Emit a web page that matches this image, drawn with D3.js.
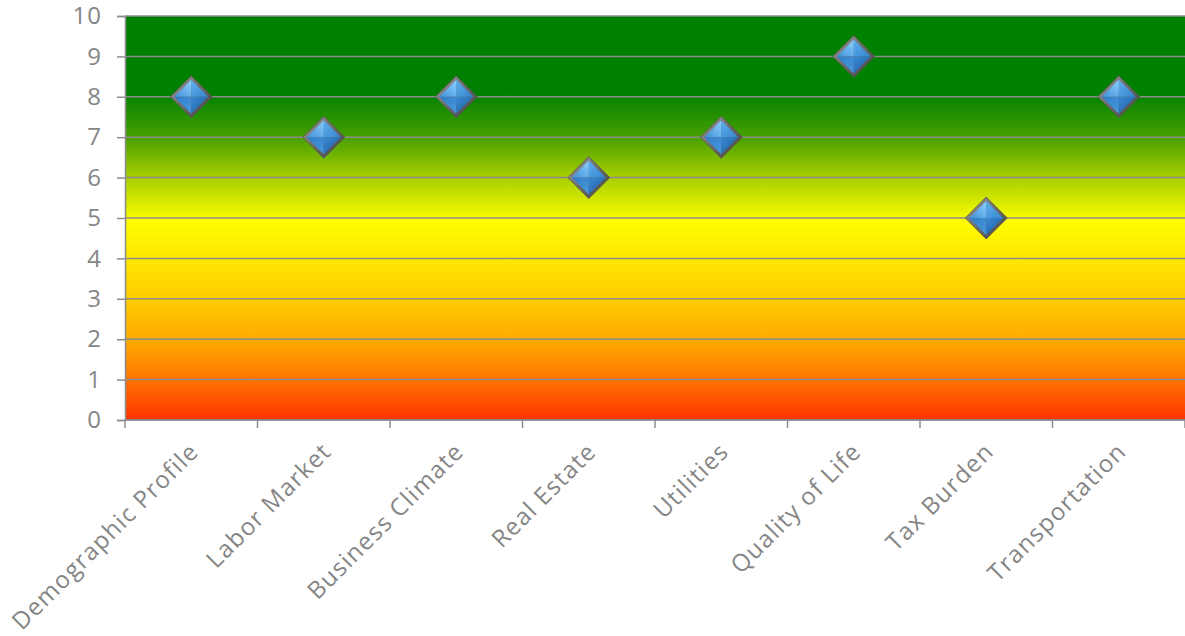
<!DOCTYPE html>
<html>
<head>
<meta charset="utf-8">
<script src="https://cdn.jsdelivr.net/npm/d3@7"></script>
<style>
  html, body { margin: 0; padding: 0; background: #fff; }
  svg { display: block; }
  .axis text { font-family: "Open Sans", sans-serif; font-weight: normal; fill: #858585; }
</style>
</head>
<body>
<svg id="chart" width="1185" height="636"></svg>
<script>
// Scores per category
const categories = ["Demographic Profile", "Labor Market", "Business Climate", "Real Estate",
                    "Utilities", "Quality of Life", "Tax Burden", "Transportation"];
const scores = [8, 7, 8, 6, 7, 9, 5, 8];
const yTicks = [0, 1, 2, 3, 4, 5, 6, 7, 8, 9, 10];

// Background colour bands along the score axis (score -> colour)
const bandStops = [
  { v: 10,   c: "#008000" },
  { v: 8.1,  c: "#008000" },
  { v: 7,    c: "#48a000" },
  { v: 6,    c: "#a8cf00" },
  { v: 5.05, c: "#f2f800" },
  { v: 5,    c: "#ffff00" },
  { v: 4,    c: "#ffe600" },
  { v: 3,    c: "#ffcc00" },
  { v: 2,    c: "#ffab00" },
  { v: 1,    c: "#ff7400" },
  { v: 0,    c: "#ff3300" }
];

const svg = d3.select("#chart");
const margin = { left: 125, right: 0, top: 16, bottom: 216 };
const W = 1185, H = 636;
const plotW = W - margin.left - margin.right;
const plotH = H - margin.top - margin.bottom;

const x = d3.scaleBand().domain(categories).range([margin.left, margin.left + plotW]).padding(0);
const y = d3.scaleLinear().domain([0, 10]).range([margin.top + plotH, margin.top]);

const defs = svg.append("defs");

// vertical gradient for the plot background
const bg = defs.append("linearGradient")
  .attr("id", "bgGrad").attr("gradientUnits", "userSpaceOnUse")
  .attr("x1", 0).attr("x2", 0).attr("y1", y(10)).attr("y2", y(0));
bg.selectAll("stop").data(bandStops).join("stop")
  .attr("offset", d => (y(d.v) - y(10)) / (y(0) - y(10)))
  .attr("stop-color", d => d.c);

// facet gradients for the diamond markers
function facet(id, c1, c2, x1, y1, x2, y2) {
  const g = defs.append("linearGradient").attr("id", id)
    .attr("x1", x1).attr("y1", y1).attr("x2", x2).attr("y2", y2);
  g.append("stop").attr("offset", 0).attr("stop-color", c1);
  g.append("stop").attr("offset", 1).attr("stop-color", c2);
}
facet("fTL", "#3f8fd6", "#8cd0ff", 0, 1, 1, 0);
facet("fTR", "#5fb0f0", "#3585cc", 0, 0, 1, 1);
facet("fBL", "#2f7cc4", "#4a9ae0", 0, 0, 1, 1);
facet("fBR", "#3a8ad4", "#1d5c9c", 0, 0, 1, 1);
facet("rim", "#9a9a9a", "#3e3e3e", 0, 0, 1, 1);

// plot background
svg.append("rect")
  .attr("x", margin.left).attr("y", y(10))
  .attr("width", plotW).attr("height", y(0) - y(10))
  .attr("fill", "url(#bgGrad)");

// horizontal gridlines
svg.append("g").selectAll("line").data(yTicks).join("line")
  .attr("x1", margin.left).attr("x2", margin.left + plotW)
  .attr("y1", d => y(d)).attr("y2", d => y(d))
  .attr("stroke", "#8c8c8c").attr("stroke-width", 1.5);

// y axis
const yAxis = svg.append("g").attr("class", "axis")
  .attr("transform", `translate(${margin.left},0)`)
  .call(d3.axisLeft(y).tickValues(yTicks).tickSize(8).tickPadding(15).tickFormat(d3.format("d")));
yAxis.selectAll("text").attr("font-size", 24).attr("letter-spacing", 1);
yAxis.select(".domain").attr("stroke", "#8c8c8c").attr("stroke-width", 1.5);
yAxis.selectAll(".tick line").attr("stroke", "#8c8c8c").attr("stroke-width", 1.5);

// x axis with ticks at category boundaries
const xAxisG = svg.append("g").attr("class", "axis")
  .attr("transform", `translate(0,${y(0)})`);
xAxisG.append("line")
  .attr("x1", margin.left).attr("x2", margin.left + plotW)
  .attr("stroke", "#8c8c8c").attr("stroke-width", 1.5);
const bounds = categories.map(c => x(c)).concat([x(categories[categories.length - 1]) + x.bandwidth()]);
xAxisG.selectAll("line.tk").data(bounds).join("line").attr("class", "tk")
  .attr("x1", d => d).attr("x2", d => d).attr("y1", 0).attr("y2", 8)
  .attr("stroke", "#8c8c8c").attr("stroke-width", 1.5);
xAxisG.selectAll("text").data(categories).join("text")
  .attr("transform", d => `translate(${x(d) + x.bandwidth() / 2 + 9},${33}) rotate(-45)`)
  .attr("text-anchor", "end")
  .attr("font-size", 24)
  .attr("letter-spacing", 1.2)
  .text(d => d);

// diamond markers
const r = 21;
const marks = svg.append("g").selectAll("g").data(categories).join("g")
  .attr("transform", (d, i) => `translate(${x(d) + x.bandwidth() / 2},${y(scores[i])})`);
marks.append("path").attr("d", `M0,${-r}L${r},0L0,${r}L${-r},0Z`)
  .attr("fill", "url(#rim)").attr("stroke", "#555").attr("stroke-width", 0.8);
const ri = r - 4;
marks.append("path").attr("d", `M0,0L0,${-ri}L${-ri},0Z`).attr("fill", "url(#fTL)");
marks.append("path").attr("d", `M0,0L0,${-ri}L${ri},0Z`).attr("fill", "url(#fTR)");
marks.append("path").attr("d", `M0,0L${-ri},0L0,${ri}Z`).attr("fill", "url(#fBL)");
marks.append("path").attr("d", `M0,0L${ri},0L0,${ri}Z`).attr("fill", "url(#fBR)");
</script>
</body>
</html>
